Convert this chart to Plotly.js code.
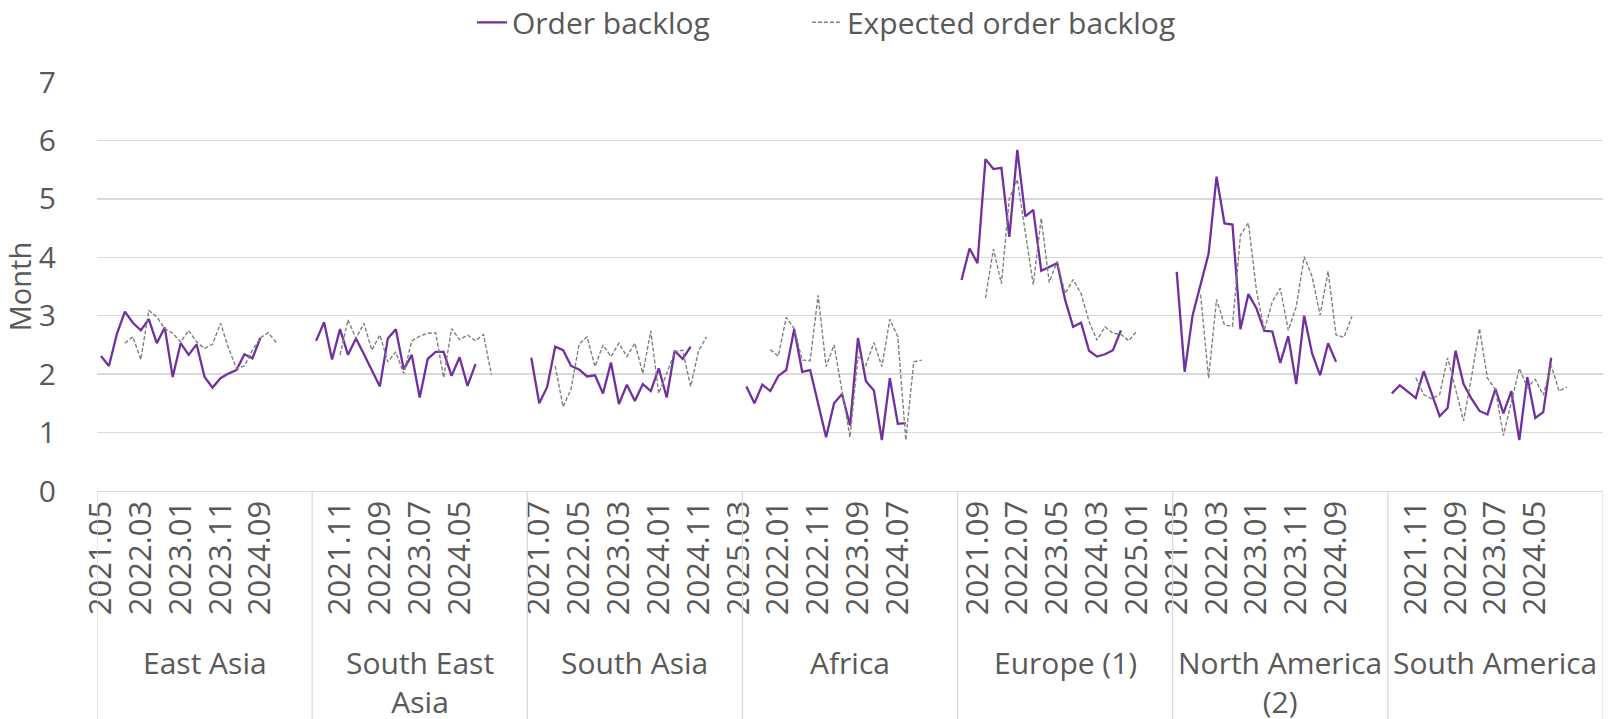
<!DOCTYPE html>
<html>
<head>
<meta charset="utf-8">
<script src="https://cdn.plot.ly/plotly-3.0.1.min.js"></script>
<style>
html,body{margin:0;padding:0;background:#ffffff;}
#chart{width:1616px;height:719px;}
</style>
</head>
<body>
<div id="chart"></div>
<script>
// ---- categories ----
const regions = ['East Asia','South East Asia','South Asia','Africa','Europe (1)','North America (2)','South America'];
const regionLabels = ['East Asia','South East<br>Asia','South Asia','Africa','Europe (1)','North America<br>(2)','South America'];
const slotsPerRegion = 27;      // category slots per region on the axis
const labelInterval = 5;        // one date label every 5 categories
const tickLabels = [
  '2021.05','2022.03','2023.01','2023.11','2024.09','',
  '2021.11','2022.09','2023.07','2024.05','',
  '2021.07','2022.05','2023.03','2024.01','2024.11','2025.03',
  '2022.01','2022.11','2023.09','2024.07','',
  '2021.09','2022.07','2023.05','2024.03','2025.01',
  '2021.05','2022.03','2023.01','2023.11','2024.09','',
  '2021.11','2022.09','2023.07','2024.05',''
];
const backlogOffset = 0;   // first category index of the order backlog series
const expectedOffset = 3;  // first category index of the expected series

// ---- series values (months) ----
const eastAsiaBacklog = [2.31,2.14,2.69,3.07,2.88,2.75,2.94,2.53,2.80,1.95,2.53,2.33,2.51,1.95,1.77,1.93,2.01,2.07,2.34,2.27,2.62];
const eastAsiaExpected = [2.53,2.64,2.25,3.09,2.98,2.78,2.70,2.55,2.75,2.55,2.44,2.51,2.87,2.45,2.10,2.14,2.41,2.62,2.71,2.54];
const southEastAsiaBacklog = [2.57,2.89,2.25,2.77,2.33,2.61,2.34,2.07,1.79,2.61,2.77,2.08,2.33,1.60,2.26,2.38,2.38,1.97,2.29,1.80,2.17];
const southEastAsiaExpected = [2.33,2.93,2.61,2.87,2.41,2.67,2.21,2.38,2.01,2.57,2.65,2.70,2.71,1.94,2.78,2.59,2.67,2.57,2.68,1.99];
const southAsiaBacklog = [2.28,1.50,1.78,2.47,2.41,2.14,2.08,1.96,1.98,1.67,2.20,1.49,1.82,1.54,1.83,1.71,2.10,1.60,2.40,2.26,2.47];
const southAsiaExpected = [2.14,1.44,1.75,2.51,2.64,2.13,2.50,2.30,2.53,2.30,2.53,2.01,2.74,1.67,2.01,2.38,2.41,1.79,2.40,2.64];
const africaBacklog = [1.79,1.50,1.82,1.71,1.97,2.07,2.77,2.04,2.07,1.50,0.92,1.50,1.66,1.12,2.62,1.88,1.72,0.87,1.93,1.15,1.16];
const africaExpected = [2.42,2.31,2.97,2.78,2.24,2.23,3.35,2.13,2.50,1.70,0.92,2.30,2.15,2.54,2.13,2.94,2.64,0.87,2.21,2.24];
const europeBacklog = [3.61,4.15,3.90,5.68,5.51,5.53,4.35,5.84,4.70,4.81,3.77,3.84,3.90,3.27,2.81,2.88,2.40,2.30,2.34,2.41,2.75];
const europeExpected = [3.30,4.14,3.55,5.01,5.33,4.45,3.53,4.67,3.57,3.93,3.38,3.62,3.38,2.90,2.58,2.81,2.70,2.68,2.57,2.74];
const northAmericaBacklog = [3.75,2.04,3.01,3.53,4.06,5.38,4.58,4.56,2.77,3.37,3.13,2.74,2.73,2.19,2.65,1.83,3.00,2.35,1.98,2.53,2.21];
const northAmericaExpected = [3.36,1.93,3.28,2.84,2.82,4.38,4.59,3.44,2.75,3.24,3.47,2.75,3.15,4.01,3.67,3.01,3.76,2.67,2.63,2.99];
const southAmericaBacklog = [1.67,1.81,1.70,1.59,2.05,1.67,1.28,1.42,2.40,1.83,1.58,1.37,1.31,1.75,1.33,1.71,0.87,1.95,1.25,1.35,2.28];
const southAmericaExpected = [1.94,1.65,1.58,1.65,2.28,1.75,1.20,1.95,2.78,1.93,1.74,0.95,1.55,2.10,1.77,1.91,1.64,2.15,1.71,1.78];

const backlogSets = [eastAsiaBacklog, southEastAsiaBacklog, southAsiaBacklog, africaBacklog, europeBacklog, northAmericaBacklog, southAmericaBacklog];
const expectedSets = [eastAsiaExpected, southEastAsiaExpected, southAsiaExpected, africaExpected, europeExpected, northAmericaExpected, southAmericaExpected];

function buildSeries(sets, offset){
  const x = [], y = [];
  sets.forEach((vals, g) => {
    for (let i = 0; i < slotsPerRegion; i++) {
      const k = i - offset;
      x.push(g * slotsPerRegion + i);
      y.push(k >= 0 && k < vals.length ? vals[k] : null);
    }
  });
  return {x, y};
}

const b = buildSeries(backlogSets, backlogOffset);
const e = buildSeries(expectedSets, expectedOffset);
const nCat = regions.length * slotsPerRegion;

const FONT = '"Open Sans", "Noto Sans", sans-serif';
const TXT = '#595959';
const GRID = '#D9D9D9';

const traces = [
  {type:'scatter', mode:'lines', name:'Order backlog', x:b.x, y:b.y, legend:'legend',
   line:{color:'#7030A0', width:2.3}, connectgaps:false, hoverinfo:'y'},
  {type:'scatter', mode:'lines', name:'Expected order backlog', x:e.x, y:e.y, legend:'legend2',
   line:{color:'#808080', width:1.4, dash:'4px,2px'}, connectgaps:false, hoverinfo:'y'}
];

const shapes = [];
for (let g = 0; g <= regions.length; g++) {
  shapes.push({type:'line', xref:'x', yref:'paper', x0:g*slotsPerRegion-0.5, x1:g*slotsPerRegion-0.5,
    y0:0, y1:-0.56, line:{color:GRID, width:1.3}});
}
const annotations = regionLabels.map((t, g) => ({
  text:t, xref:'x', yref:'paper', x:g*slotsPerRegion + (slotsPerRegion-1)/2, y:-0.365,
  xanchor:'center', yanchor:'top', showarrow:false, align:'center',
  font:{family:FONT, size:30, color:TXT}
}));

const legendCommon = {orientation:'h', xanchor:'left', y:1.146, yanchor:'middle',
  font:{family:FONT, size:30, color:TXT}, bgcolor:'rgba(0,0,0,0)'};

const layout = {
  width:1616, height:719,
  paper_bgcolor:'#ffffff', plot_bgcolor:'#ffffff',
  margin:{l:97, r:13, t:82, b:228, autoexpand:false},
  font:{family:FONT, size:30, color:TXT},
  showlegend:true,
  legend:Object.assign({x:0.249}, legendCommon),
  legend2:Object.assign({x:0.4714}, legendCommon),
  xaxis:{range:[-0.5, nCat-0.5], tickmode:'array',
    tickvals:tickLabels.map((_, m) => m*labelInterval), ticktext:tickLabels,
    tickangle:-90, showgrid:false, zeroline:false, showline:true, linecolor:GRID, linewidth:1.3,
    ticks:'', tickfont:{family:FONT, size:31, color:TXT}, ticklabelstandoff:-4, automargin:false, fixedrange:true},
  yaxis:{range:[0,7], dtick:1, showgrid:true, gridcolor:GRID, gridwidth:1.3, zeroline:false,
    showline:false, ticks:'', tickfont:{family:FONT, size:30, color:TXT}, ticklabelstandoff:40,
    title:{text:'Month', font:{family:FONT, size:29, color:TXT}, standoff:6}, automargin:false, fixedrange:true},
  shapes:shapes,
  annotations:annotations
};

Plotly.newPlot('chart', traces, layout, {displayModeBar:false, staticPlot:true});
</script>
</body>
</html>
